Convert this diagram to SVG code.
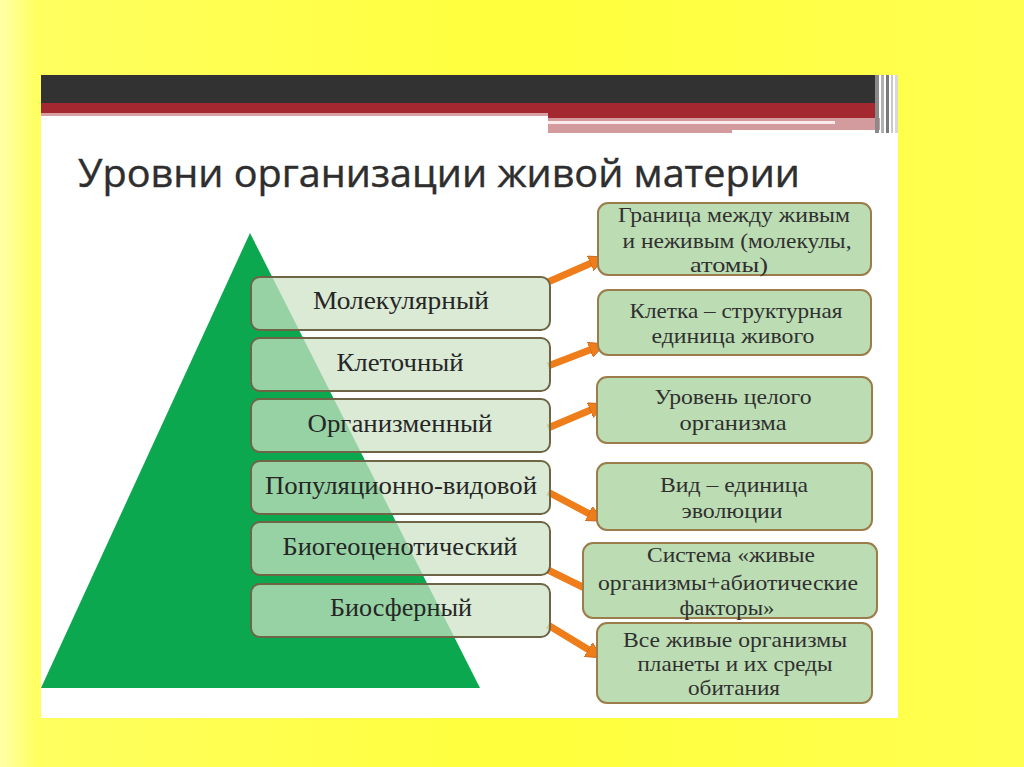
<svg xmlns="http://www.w3.org/2000/svg" width="1024" height="767" viewBox="0 0 1024 767">
<defs>
<linearGradient id="bg" x1="0" y1="0" x2="1" y2="0">
<stop offset="0" stop-color="#ffffa8"/>
<stop offset="0.035" stop-color="#ffff60"/>
<stop offset="0.5" stop-color="#ffff3c"/>
<stop offset="1" stop-color="#ffff50"/>
</linearGradient>
<marker id="ah" viewBox="0 0 16 16" refX="8" refY="8" markerWidth="16" markerHeight="16" markerUnits="userSpaceOnUse" orient="auto">
<path d="M0,0 L16,8 L0,16 Z" fill="#ef7d1a" stroke="#c4621a" stroke-width="0.8"/>
</marker>
<style>
.lb{fill:#cce2c5;fill-opacity:0.72;stroke:#6e6446;stroke-width:2}
.rb{fill:#bcdcb3;stroke:#9a7d4a;stroke-width:2}
.lt{font-family:"Liberation Serif","Times New Roman",serif;font-size:25px;fill:#262626;text-anchor:middle}
.rt{font-family:"Liberation Serif","Times New Roman",serif;font-size:21.5px;fill:#303030;text-anchor:middle}
.ar{stroke:#ef7d1a;stroke-width:7;fill:none;marker-end:url(#ah)}
</style>
</defs>
<rect width="1024" height="767" fill="url(#bg)"/>
<rect x="41" y="75" width="857" height="643" fill="#ffffff"/>
<g id="header">
<rect x="41" y="75" width="834" height="28" fill="#323232"/>
<rect x="41" y="103" width="835" height="10" fill="#a3282f"/>
<rect x="41" y="113" width="507" height="3" fill="#d9a0a3"/>
<rect x="548" y="113" width="328" height="5" fill="#a3282f"/>
<rect x="548" y="118" width="332" height="12" fill="#d49b9f"/>
<rect x="548" y="121" width="287" height="3" fill="#fbeaea"/>
<rect x="548" y="130" width="184" height="3" fill="#d49b9f"/>
<rect x="875" y="75" width="4" height="58" fill="#8a8a8a"/>
<rect x="881" y="75" width="3" height="58" fill="#b0b0b0"/>
<rect x="886" y="75" width="3" height="58" fill="#7a7a7a"/>
<rect x="891" y="75" width="2" height="58" fill="#c8c8c8"/>
<rect x="895" y="75" width="3" height="58" fill="#d8d8d8"/>
</g>
<text id="title" x="78" y="187" font-family="'Open Sans','DejaVu Sans',sans-serif" font-size="38" font-weight="500" fill="#2e2e2e" stroke="#2e2e2e" stroke-width="0.4" textLength="722" lengthAdjust="spacingAndGlyphs">Уровни организации живой материи</text>
<polygon id="pyramid" points="250,233 41,688 480,688" fill="#0ba84f"/>
<g id="connectors">
<line class="ar" x1="548" y1="282" x2="597.7" y2="260.2"/>
<line class="ar" x1="548" y1="366" x2="597.5" y2="346.9"/>
<line class="ar" x1="548" y1="428" x2="597.6" y2="407.1"/>
<line class="ar" x1="548" y1="492" x2="595.9" y2="517.3"/>
<line class="ar" x1="548" y1="570" x2="595.8" y2="593.5"/>
<line class="ar" x1="548" y1="625" x2="595.2" y2="653.8"/>
</g>
<g id="lvl1"><rect class="lb" x="251" y="277" width="299" height="53" rx="9"/><text class="lt" x="401" y="309" textLength="176" lengthAdjust="spacingAndGlyphs">Молекулярный</text></g>
<g id="lvl2"><rect class="lb" x="251" y="338" width="299" height="53" rx="9"/><text class="lt" x="400" y="371" textLength="127" lengthAdjust="spacingAndGlyphs">Клеточный</text></g>
<g id="lvl3"><rect class="lb" x="251" y="399" width="299" height="53" rx="9"/><text class="lt" x="400" y="432" textLength="185" lengthAdjust="spacingAndGlyphs">Организменный</text></g>
<g id="lvl4"><rect class="lb" x="251" y="461" width="299" height="53" rx="9"/><text class="lt" x="401" y="494" textLength="272" lengthAdjust="spacingAndGlyphs">Популяционно-видовой</text></g>
<g id="lvl5"><rect class="lb" x="251" y="522" width="299" height="53" rx="9"/><text class="lt" x="400" y="555" textLength="235" lengthAdjust="spacingAndGlyphs">Биогеоценотический</text></g>
<g id="lvl6"><rect class="lb" x="251" y="584" width="299" height="53" rx="9"/><text class="lt" x="401" y="616" textLength="142" lengthAdjust="spacingAndGlyphs">Биосферный</text></g>
<g id="d1"><rect class="rb" x="598" y="203" width="273" height="72" rx="10"/><text class="rt" x="734" y="222" textLength="232" lengthAdjust="spacingAndGlyphs">Граница между живым</text><text class="rt" x="737" y="248" textLength="229" lengthAdjust="spacingAndGlyphs">и неживым (молекулы,</text><text class="rt" x="729" y="272" textLength="78" lengthAdjust="spacingAndGlyphs">атомы)</text></g>
<g id="d2"><rect class="rb" x="598" y="290" width="273" height="65" rx="10"/><text class="rt" x="736" y="318" textLength="213" lengthAdjust="spacingAndGlyphs">Клетка – структурная</text><text class="rt" x="733" y="343" textLength="163" lengthAdjust="spacingAndGlyphs">единица живого</text></g>
<g id="d3"><rect class="rb" x="597" y="377" width="275" height="66" rx="10"/><text class="rt" x="733" y="404" textLength="157" lengthAdjust="spacingAndGlyphs">Уровень целого</text><text class="rt" x="733" y="430" textLength="107" lengthAdjust="spacingAndGlyphs">организма</text></g>
<g id="d4"><rect class="rb" x="597" y="463" width="275" height="67" rx="10"/><text class="rt" x="734" y="492" textLength="148" lengthAdjust="spacingAndGlyphs">Вид – единица</text><text class="rt" x="732" y="518" textLength="101" lengthAdjust="spacingAndGlyphs">эволюции</text></g>
<g id="d5"><rect class="rb" x="583" y="543" width="294" height="75" rx="10"/><text class="rt" x="731" y="562" textLength="168" lengthAdjust="spacingAndGlyphs">Система «живые</text><text class="rt" x="728" y="590" textLength="260" lengthAdjust="spacingAndGlyphs">организмы+абиотические</text><text class="rt" x="727" y="615" textLength="95" lengthAdjust="spacingAndGlyphs">факторы»</text></g>
<g id="d6"><rect class="rb" x="597" y="623" width="275" height="80" rx="10"/><text class="rt" x="735" y="647" textLength="224" lengthAdjust="spacingAndGlyphs">Все живые организмы</text><text class="rt" x="735" y="671" textLength="195" lengthAdjust="spacingAndGlyphs">планеты и их среды</text><text class="rt" x="734" y="695" textLength="92" lengthAdjust="spacingAndGlyphs">обитания</text></g>
</svg>
